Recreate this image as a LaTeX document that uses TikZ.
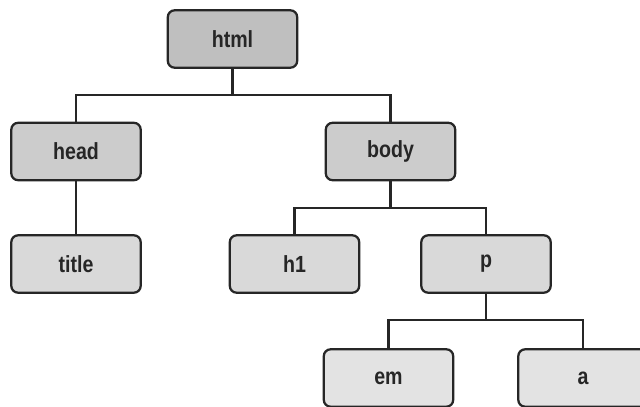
\documentclass[tikz,border=0pt]{standalone}
\usepackage{fontspec}
\setmainfont{Liberation Sans}[FakeStretch=0.84]
\begin{document}
\begin{tikzpicture}[x=0.75pt,y=-0.75pt,
  tbox/.style={draw=black!85,line width=1.7pt,rounded corners=5pt,minimum width=97pt,minimum height=43pt,inner sep=0pt,font=\fontsize{17.5}{20}\selectfont\bfseries,text=black!85},
  lvA/.style={tbox,fill=black!25},
  lvB/.style={tbox,fill=black!20},
  lvC/.style={tbox,fill=black!15},
  lvD/.style={tbox,fill=black!11},
  conn/.style={draw=black!85,line width=1.6pt}]
\path[use as bounding box] (0,0) rectangle (640,407);
\clip (0,0) rectangle (640,407);
\node[lvA] (html) at (232.5,39) {html};
\node[lvB] (head) at (76,151.5) {head};
\node[lvB] (body) at (390.5,151.5) {body};
\node[lvC] (title) at (76,264) {title};
\node[lvC] (h1) at (294.5,264) {h1};
\node[lvC] (p) at (486,264) {p};
\node[lvD] (em) at (388.5,378) {em};
\node[lvD] (a) at (583,378) {a};
\coordinate (j1) at (232.5,95);
\coordinate (j2) at (390.5,208);
\coordinate (j3) at (486,320);
\draw[conn] (html.south) -- (j1);
\draw[conn] (j1) -| (head.north);
\draw[conn] (j1) -| (body.north);
\draw[conn] (head.south) -- (title.north);
\draw[conn] (body.south) -- (j2);
\draw[conn] (j2) -| (h1.north);
\draw[conn] (j2) -| (p.north);
\draw[conn] (p.south) -- (j3);
\draw[conn] (j3) -| (em.north);
\draw[conn] (j3) -| (a.north);
\end{tikzpicture}
\end{document}
